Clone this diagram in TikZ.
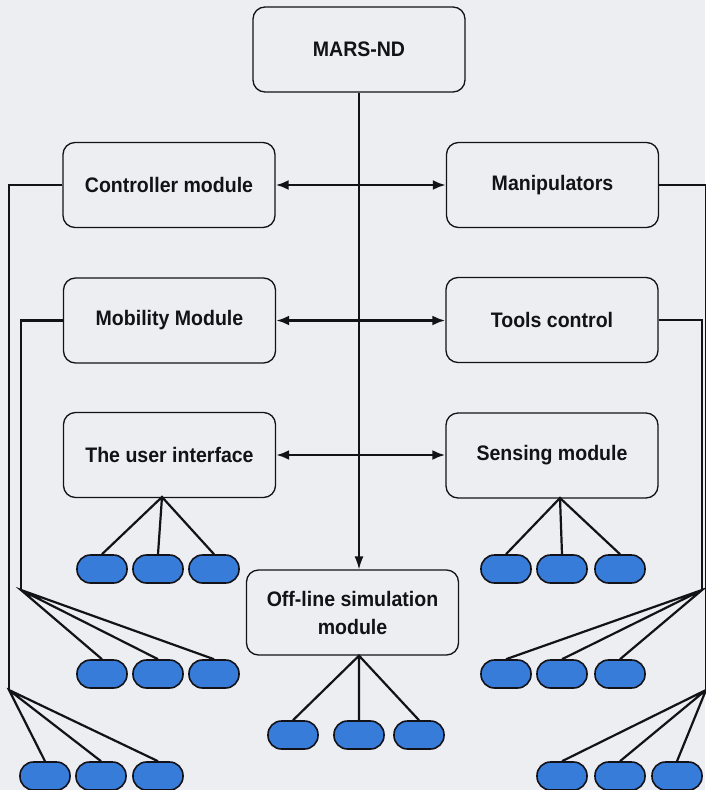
\documentclass[tikz,border=0pt]{standalone}
\usepackage{fontspec}
\newfontfamily\lblfont{Liberation Sans}[FakeStretch=0.93]
\usetikzlibrary{arrows.meta}
\definecolor{paper}{RGB}{237,238,242}
\definecolor{pillblue}{RGB}{56,124,218}
\definecolor{ink}{RGB}{18,18,24}

\begin{document}
\begin{tikzpicture}[x=1pt,y=-1pt,
  module/.style={draw=ink, line width=1.3pt, rounded corners=12pt,
    minimum width=212pt, minimum height=85pt, inner sep=0pt, align=center,
    font=\lblfont\bfseries\fontsize{21}{28}\selectfont, text=ink},
  pill/.style={draw=ink, fill=pillblue, line width=1.6pt, rounded corners=13.5pt,
    minimum width=50pt, minimum height=28pt, inner sep=0pt},
  link/.style={draw=ink, line width=2.2pt},
  duplex/.style={draw=ink, line width=2.6pt,
    {Latex[length=13pt,width=10pt]}-{Latex[length=13pt,width=10pt]}},
  feed/.style={draw=ink, line width=1.4pt, -{Latex[length=13pt,width=9pt]}},
]
% page
\fill[paper] (0,0) rectangle (705,790);
\useasboundingbox (0,0) rectangle (705,790);

% modules
\node[module] (mars)  at (359,49.5)   {MARS-ND};
\node[module] (ctrl)  at (169,185)    {Controller module};
\node[module] (manip) at (552.5,185)  {Manipulators};
\node[module] (mob)   at (169.5,320.5){Mobility Module};
\node[module] (tools) at (552,320)    {Tools control};
\node[module] (ui)    at (169.5,455)  {The user interface};
\node[module] (sens)  at (552,455.5)  {Sensing module};
\node[module] (sim)   at (352.5,612.5){Off-line simulation\\module};

% sub-unit positions
\foreach \n/\x/\y in {l1a/102/569, l1b/158/569, l1c/214/569,
                      l3a/102/674, l3b/158/674, l3c/214/674,
                      l4a/45/776,  l4b/101/776, l4c/158/776,
                      r1a/506/569, r1b/562/569, r1c/620/569,
                      r3a/506/674, r3b/562/674, r3c/620/674,
                      r4a/562/776, r4b/620/776, r4c/677/776,
                      s1a/293/735, s1b/359/735, s1c/419/735}
  \coordinate (\n-pos) at (\x,\y);

% fan points
\coordinate (fanL4) at (9,690);
\coordinate (fanL3) at (21,590);
\coordinate (fanR3) at (702,590);
\coordinate (fanR4) at (706,690);
\coordinate (fanUI) at (162,497);
\coordinate (fanSens) at (560,498);
\coordinate (fanSim) at (mars.south |- sim.south);

% trunk to the simulation module
\draw[feed] (mars.south) -- (mars.south |- sim.north);

% two-way links between the columns
\draw[duplex] (ctrl.east) -- (manip.west);
\draw[duplex] (mob.east) -- (tools.west |- mob.east);
\draw[duplex] (ui.east) -- (sens.west |- ui.east);

% side buses
\draw[link] (ctrl.west) -| (fanL4);
\draw[link] (mob.west) -| (fanL3);
\draw[link] (tools.east) -| (fanR3);
\draw[link] (manip.east) -| (fanR4);

% sub-unit nodes
\foreach \n in {l1a,l1b,l1c,l3a,l3b,l3c,l4a,l4b,l4c,
                r1a,r1b,r1c,r3a,r3b,r3c,r4a,r4b,r4c,s1a,s1b,s1c}
  \node[pill] (\n) at (\n-pos) {};

% fans
\foreach \f/\a/\b/\c in {fanUI/l1a/l1b/l1c, fanL3/l3a/l3b/l3c, fanL4/l4a/l4b/l4c,
                         fanSens/r1a/r1b/r1c, fanR3/r3a/r3b/r3c, fanR4/r4a/r4b/r4c,
                         fanSim/s1a/s1b/s1c}
  \draw[link] (\a.north) -- (\f) -- (\c.north) (\f) -- (\b.north);
\end{tikzpicture}
\end{document}
